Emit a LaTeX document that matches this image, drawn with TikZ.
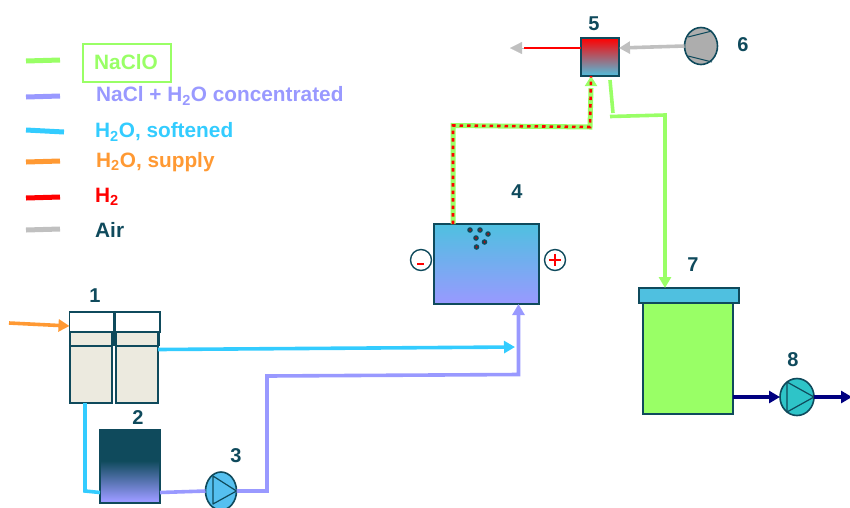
\documentclass[tikz,border=0pt]{standalone}
\usepackage{fontspec}
\setmainfont{Liberation Sans}
\usetikzlibrary{arrows.meta,shapes.geometric,calc}
\definecolor{dk}{HTML}{0F4A5C}
\definecolor{lblue}{HTML}{4FC0E0}
\definecolor{lav}{HTML}{9999FF}
\definecolor{grn}{HTML}{99FF66}
\definecolor{cyn}{HTML}{33CCFF}
\definecolor{org}{HTML}{FF9933}
\definecolor{gry}{HTML}{C0C0C0}
\definecolor{beige}{HTML}{ECEADF}
\definecolor{navyb}{HTML}{000080}
\definecolor{tealp}{HTML}{2EC4C8}
\definecolor{pblue}{HTML}{55C0F0}
\pgfdeclareverticalshading{darklav}{100bp}{color(0bp)=(lav); color(27bp)=(lav); color(54bp)=(dk); color(100bp)=(dk)}
\tikzset{
  px/.style={x=1pt,y=-1pt},
  eq/.style={draw=dk,line width=1.6pt,inner sep=0pt,outer sep=0pt},
  pipe/.style={line width=3.6pt,line join=miter},
  tip/.style={-{Triangle[length=11pt,width=12pt]}},
  lab/.style={font=\bfseries\fontsize{20}{22}\selectfont,text=dk,inner sep=0pt},
  leg/.style={font=\bfseries\fontsize{20.8}{22}\selectfont,inner sep=0pt,anchor=west},
  pumpn/.style={eq,ellipse,inner sep=0pt},
  legline/.style={line width=5pt},
}
\begin{document}
\begin{tikzpicture}[px]
\useasboundingbox (0,0) rectangle (850,507);
\clip (0,0) rectangle (850,507);
% legend
\coordinate (l1a) at (26,61); \coordinate (l1b) at (60,60);
\coordinate (l2a) at (26,97); \coordinate (l2b) at (60,96);
\coordinate (l3a) at (26,130); \coordinate (l3b) at (64,132);
\coordinate (l4a) at (26,162); \coordinate (l4b) at (60,161);
\coordinate (l5a) at (26,198); \coordinate (l5b) at (60,197);
\coordinate (l6a) at (26,230); \coordinate (l6b) at (60,229);
\draw[legline,grn] (l1a)--(l1b);
\draw[legline,lav] (l2a)--(l2b);
\draw[legline,cyn] (l3a)--(l3b);
\draw[legline,org] (l4a)--(l4b);
\draw[legline,red] (l5a)--(l5b);
\draw[legline,gry] (l6a)--(l6b);
\node[draw=grn,line width=1.8pt,minimum width=88pt,minimum height=38pt,inner sep=0pt] (lgbox) at (127,63) {};
\node[leg,text=grn] (t1) at (94,62) {NaClO};
\node[leg,text=lav] (t2) at (96,96) {NaCl + H\textsubscript{2}O concentrated};
\node[leg,text=cyn] (t3) at (95,132) {H\textsubscript{2}O, softened};
\node[leg,text=org] (t4l) at (96,162) {H\textsubscript{2}O, supply};
\node[leg,text=red] (t5) at (95,197) {H\textsubscript{2}};
\node[leg,text=dk] (t6) at (95,230) {Air};
% softener 1
\fill[dk] (112,312) rectangle (117,346);
\fill[dk] (157,332) rectangle (160,346);
\node[eq,fill=white,minimum width=44pt,minimum height=20pt] (s1t) at (91.5,322) {};
\node[eq,fill=white,minimum width=45pt,minimum height=20pt] (s2t) at (137.5,322) {};
\node[eq,fill=beige,minimum width=42pt,minimum height=71pt] (s1) at (91,367.5) {};
\node[eq,fill=beige,minimum width=42pt,minimum height=71pt] (s2) at (137,367.5) {};
\draw[dk,line width=1.6pt] (s1.west |- 0,346) -- (s1.east |- 0,346);
\draw[dk,line width=1.6pt] (s2.west |- 0,346) -- (s2.east |- 0,346);
% tank 2
\node[eq,shading=darklav,minimum width=60pt,minimum height=73pt] (t2k) at (130,466.5) {};
% pump 3
\node[pumpn,fill=pblue,minimum width=31pt,minimum height=38pt] (p3) at (221,491) {};
\draw[dk,line width=1.2pt,line join=round] (213,476) -- (p3.east) -- (213,504) -- cycle;
% tank 4
\node[eq,top color=lblue,bottom color=lav,minimum width=105pt,minimum height=80pt] (t4) at (486.5,264) {};
\node[draw=dk,fill=white,circle,line width=1.4pt,minimum size=21pt,inner sep=0pt] (minus) at (421,260) {};
\node[draw=dk,fill=white,circle,line width=1.4pt,minimum size=21pt,inner sep=0pt] (plus) at (555,260) {};
\draw[red,line width=2.2pt] (417,264) -- (424,264);
\draw[red,line width=2.4pt] (549,260) -- (561,260) (555,254) -- (555,266);
\foreach \xx/\yy in {470/230,480/230,488/234,476/238,484.5/242,476.5/247}{
  \fill[dk] (\xx,\yy) circle[radius=2.8pt];
  \fill[red!80!black] (\xx,\yy) circle[radius=1pt];
}
% box 5
\node[eq,top color=red,bottom color=lblue,minimum width=38pt,minimum height=38pt] (b5) at (600,57) {};
% fan 6
\node[pumpn,fill=gry!90!black,minimum width=33pt,minimum height=37pt] (f6) at (701,46) {};
\draw[dk,line width=1pt] (688,37) -- (712,31) (688,56) -- (712,62);
% tank 7
\node[eq,fill=grn,minimum width=90pt,minimum height=111pt] (t7) at (688,358.5) {};
\node[eq,fill=lblue,minimum width=100pt,minimum height=15pt] (l7) at (689,295.5) {};
% pump 8
\node[pumpn,fill=tealp,minimum width=34pt,minimum height=37pt] (p8) at (797,397) {};
\draw[dk,line width=1.2pt,line join=round] (787,382) -- (p8.east) -- (787,412) -- cycle;
% connectors
\coordinate (feed) at (9,323);
\coordinate (out8) at (852,397);
\coordinate (hout) at (510,48);
\draw[pipe,org,tip] (feed) -- ([yshift=6pt]s1t.south west);
\draw[pipe,cyn,tip] ([yshift=18pt]s2.east) -- (515,347);
\draw[pipe,cyn] ([xshift=-6pt]s1.south) |- (85,491) -- ([yshift=-26pt]t2k.west);
\draw[pipe,lav] ([yshift=-26pt]t2k.east) -- (p3.west);
\draw[pipe,lav,tip] (p3.east) -- (267,491) -- (267,376) -- (518.5,374.5) -- ([xshift=32pt]t4.south);
\draw[grn,line width=5pt] ([xshift=-33.5pt]t4.north) -- (453,125.5) -- (590,127) -- ([xshift=-9pt,yshift=-12pt]b5.south);
\draw[grn,-{Triangle[length=10pt,width=12pt]},line width=2pt] ([xshift=-9pt,yshift=-8pt]b5.south) -- ([xshift=-9pt]b5.south);
\draw[red,line width=2.6pt,dash pattern=on 3.5pt off 4pt] ([xshift=-33.5pt]t4.north) -- (453,125.5) -- (590,127) -- ([xshift=-9pt]b5.south);
\draw[pipe,grn] ([xshift=10pt,yshift=-4pt]b5.south) -- (613,113);
\draw[pipe,grn,tip] (610,116.5) -- (665,115) -- ([xshift=-24pt]l7.north);
\draw[line width=2.6pt,red] ([yshift=9pt]b5.west) -- (524,48);
\draw[gry,-{Triangle[length=12pt,width=12pt]},line width=.1pt] (524,48) -- (hout);
\draw[pipe,gry,tip] (f6.west) -- ([yshift=9pt]b5.east);
\draw[pipe,navyb,tip] ([yshift=-38.5pt,xshift=45pt]t7.center) -- (p8.west);
\draw[pipe,navyb,tip] (p8.east) -- (out8);
% numbers
\node[lab] (n1) at (95,296) {1};
\node[lab] (n2) at (138,418) {2};
\node[lab] (n3) at (236,456) {3};
\node[lab] (n4) at (517,192) {4};
\node[lab] (n5) at (594,24) {5};
\node[lab] (n6) at (743,45) {6};
\node[lab] (n7) at (693,265) {7};
\node[lab] (n8) at (793,360) {8};
\end{tikzpicture}
\end{document}
